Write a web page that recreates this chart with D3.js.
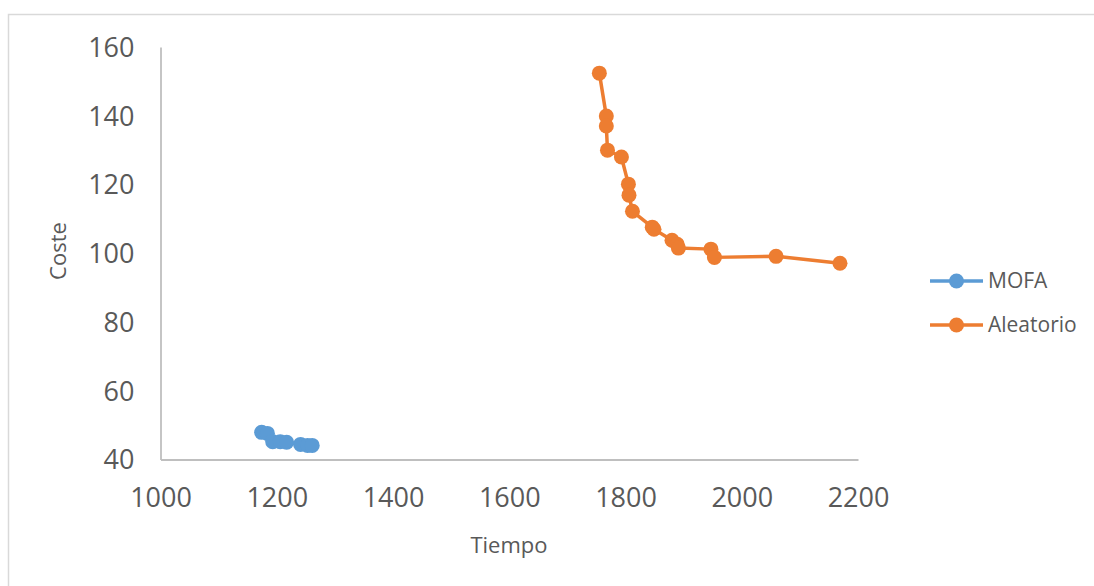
<!DOCTYPE html>
<html>
<head>
<meta charset="utf-8">
<script src="https://cdn.jsdelivr.net/npm/d3@7"></script>
<style>
  html, body { margin: 0; padding: 0; background: #fff; }
  svg { display: block; font-family: "Open Sans", "Liberation Sans", sans-serif; }
</style>
</head>
<body>
<svg id="chart" width="1094" height="586"></svg>
<script>
// Series: Tiempo (x) vs Coste (y)
const mofaTiempo = [1174, 1184, 1193, 1206, 1217, 1241, 1253, 1261];
const mofaCoste  = [47.9, 47.6, 45.2, 45.2, 45.0, 44.4, 44.1, 44.1];

const aleatorioTiempo = [1755, 1767, 1767, 1769, 1793, 1805, 1806, 1812, 1846, 1849, 1880, 1889, 1891, 1947, 1953, 2059, 2169];
const aleatorioCoste  = [152.4, 139.9, 137.0, 130.0, 128.0, 120.1, 116.9, 112.2, 107.6, 107.0, 103.8, 102.6, 101.5, 101.2, 98.8, 99.1, 97.1];

const xTicks = [1000, 1200, 1400, 1600, 1800, 2000, 2200];
const yTicks = [40, 60, 80, 100, 120, 140, 160];

const seriesNames  = ["MOFA", "Aleatorio"];
const seriesColors = ["#5B9BD5", "#ED7D31"];

const svg = d3.select("#chart");
const textColor = "#595959";
const axisColor = "#BFBFBF";

// outer chart frame
svg.append("rect")
  .attr("x", 8.5).attr("y", 14.5)
  .attr("width", 1094).attr("height", 600)
  .attr("fill", "none").attr("stroke", "#D9D9D9").attr("stroke-width", 1.5);

const x = d3.scaleLinear().domain([1000, 2200]).range([160.5, 858]);
const y = d3.scaleLinear().domain([40, 160]).range([459.5, 47]);

// axes
const xAxis = svg.append("g").attr("transform", `translate(0,${y(40)})`)
  .call(d3.axisBottom(x).tickValues(xTicks).tickSize(0).tickPadding(28).tickFormat(d3.format("d")));
const yAxis = svg.append("g").attr("transform", `translate(${x(1000)},0)`)
  .call(d3.axisLeft(y).tickValues(yTicks).tickSize(0).tickPadding(26).tickFormat(d3.format("d")));

[xAxis, yAxis].forEach(g => {
  g.select(".domain").attr("stroke", axisColor).attr("stroke-width", 1.8);
  g.selectAll("text").attr("fill", textColor).attr("font-size", 27)
    .attr("font-family", "'Open Sans', sans-serif");
});
yAxis.selectAll("text").attr("dy", "0.35em");

// axis titles
svg.append("text")
  .attr("x", 509).attr("y", 553)
  .attr("text-anchor", "middle")
  .attr("fill", textColor).attr("font-size", 22)
  .text("Tiempo");
svg.append("text")
  .attr("transform", "translate(66,251) rotate(-90)")
  .attr("text-anchor", "middle")
  .attr("fill", textColor).attr("font-size", 22)
  .text("Coste");

// series
const series = [
  { name: seriesNames[0], color: seriesColors[0], pts: mofaTiempo.map((t, i) => [t, mofaCoste[i]]) },
  { name: seriesNames[1], color: seriesColors[1], pts: aleatorioTiempo.map((t, i) => [t, aleatorioCoste[i]]) }
];

const line = d3.line().x(d => x(d[0])).y(d => y(d[1]));

series.forEach(s => {
  svg.append("path")
    .datum(s.pts)
    .attr("d", line)
    .attr("fill", "none")
    .attr("stroke", s.color)
    .attr("stroke-width", 3.5)
    .attr("stroke-linejoin", "round");
  svg.append("g").selectAll("circle")
    .data(s.pts)
    .join("circle")
    .attr("cx", d => x(d[0]))
    .attr("cy", d => y(d[1]))
    .attr("r", 7.5)
    .attr("fill", s.color);
});

// legend
const legend = svg.append("g");
series.forEach((s, i) => {
  const ly = 281 + i * 44;
  legend.append("line")
    .attr("x1", 930).attr("x2", 983).attr("y1", ly).attr("y2", ly)
    .attr("stroke", s.color).attr("stroke-width", 3.5);
  legend.append("circle")
    .attr("cx", 956.5).attr("cy", ly).attr("r", 7.5).attr("fill", s.color);
  legend.append("text")
    .attr("x", 988).attr("y", ly).attr("dy", "0.35em")
    .attr("fill", textColor).attr("font-size", 21)
    .text(s.name);
});
</script>
</body>
</html>
